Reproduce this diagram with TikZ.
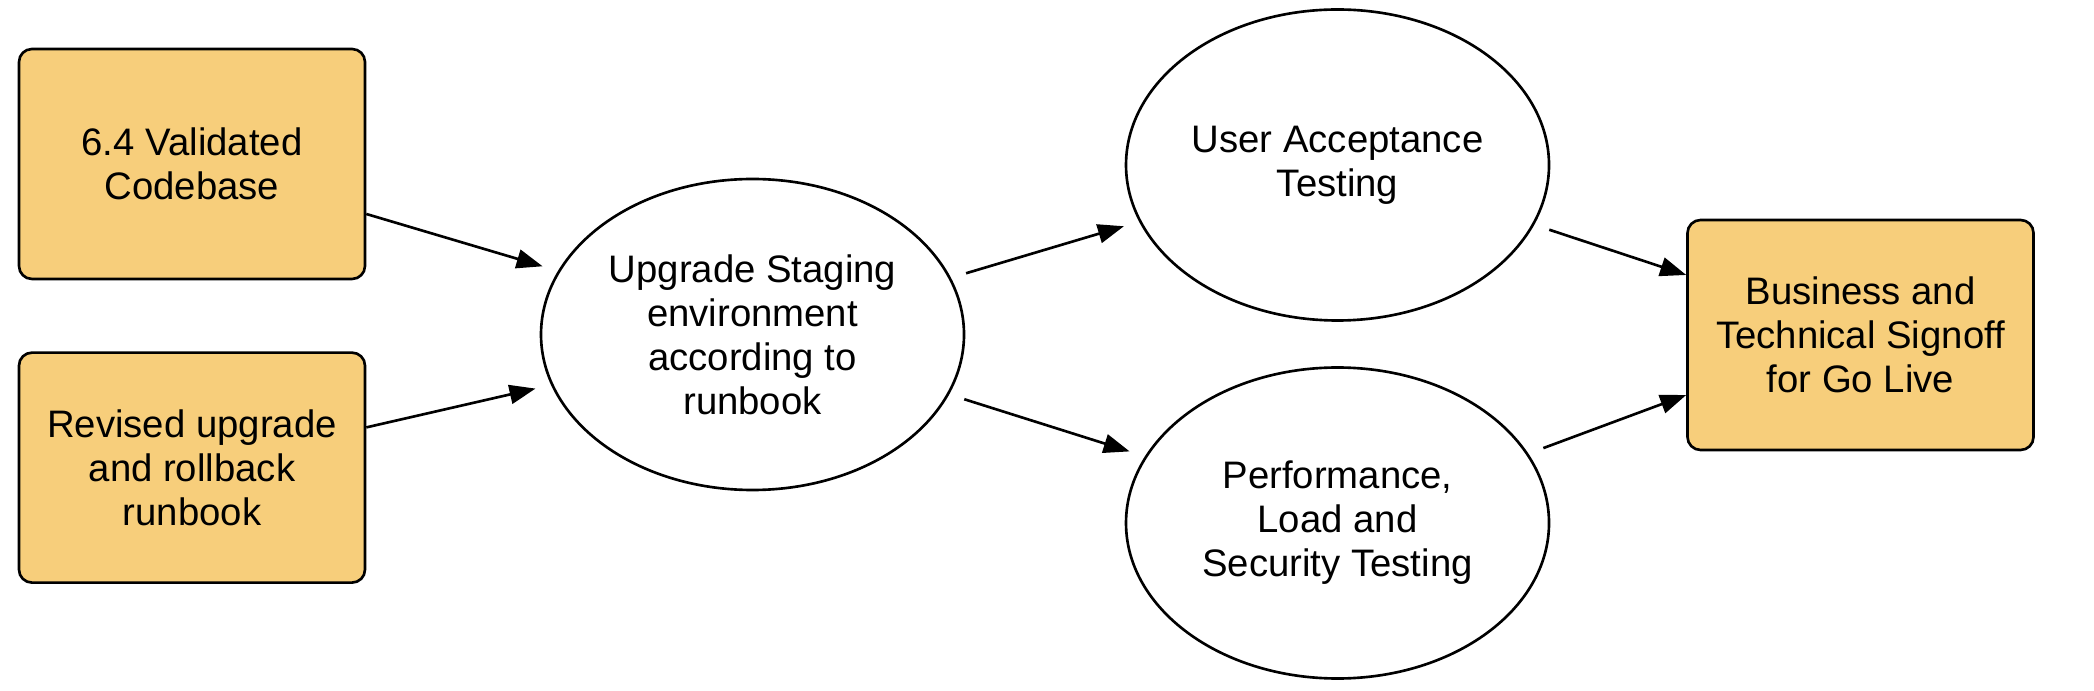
\documentclass[tikz,border=0pt]{standalone}
\usepackage{fontspec}
\setmainfont{Liberation Sans}
\usetikzlibrary{shapes.geometric, positioning, arrows.meta}
\definecolor{boxfill}{HTML}{F7CE7B}
\tikzset{taskbox/.style={draw, rounded corners=1.3mm, fill=boxfill,
    minimum width=3.46cm, minimum height=2.3cm, inner sep=0pt,
    align=center, font=\fontsize{10.9}{12.5}\selectfont},
  phase/.style={ellipse, draw, minimum width=4.23cm, minimum height=3.11cm,
    inner sep=0pt, outer sep=1.7mm,
    align=center, font=\fontsize{10.9}{12.5}\selectfont}}

\begin{document}
\begin{tikzpicture}[>={Triangle[length=2.6mm,width=1.9mm]}, line width=0.75pt]
    \useasboundingbox (0,0) rectangle (20.94,6.90);

    \node[taskbox] (codebase) at (1.92,5.26) {6.4 Validated\\Codebase};
    \node[taskbox, below=7.1mm of codebase] (runbook) {Revised upgrade\\and rollback\\runbook};

    \node[phase] (staging) at (7.525,3.555) {Upgrade Staging\\environment\\according to\\runbook};
    \node[phase] (uat) at (13.375,5.25) {User Acceptance\\Testing};
    \node[phase] (perf) at (13.375,1.67) {Performance,\\Load and\\Security Testing};

    \node[taskbox] (signoff) at (18.605,3.55) {Business and\\Technical Signoff\\for Go Live};

    \draw[->] (codebase.-16.9) -- (staging.162.9);
    \draw[->] (runbook.13.1) -- (staging.-166.6);

    \draw[->] (staging.16.1) -- (uat.196.4);
    \draw[->] (staging.-17.7) -- (perf.161.3);

    \draw[->] (uat.-17.7) -- (signoff.161.9);
    \draw[->] (perf.20.5) -- (signoff.199.4);
\end{tikzpicture}
\end{document}
